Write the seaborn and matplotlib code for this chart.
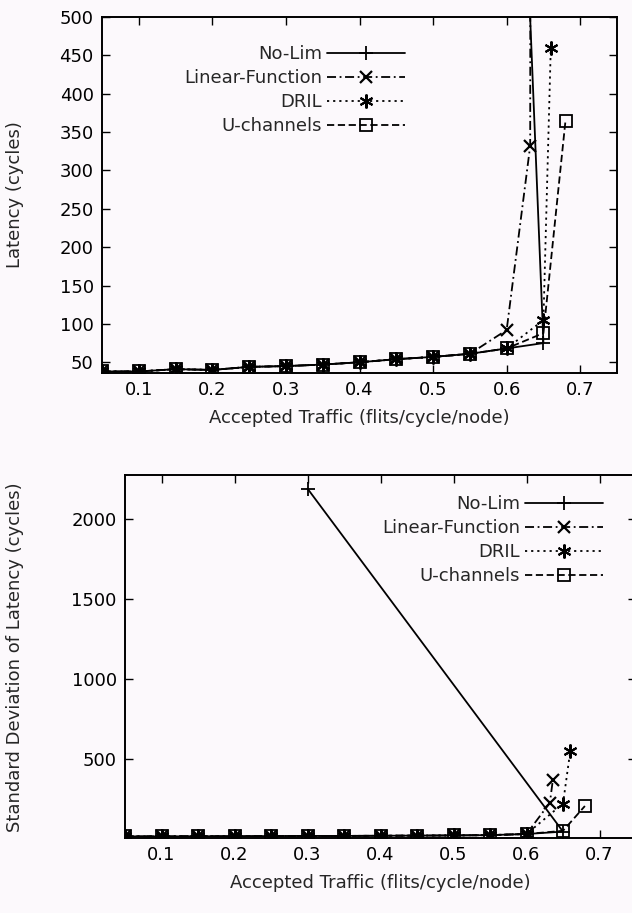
import numpy as np
import pandas as pd
import matplotlib
matplotlib.use("Agg")
import matplotlib.pyplot as plt
import seaborn as sns

# ---------------- data ----------------
series_names = ["No-Lim", "Linear-Function", "DRIL", "U-channels"]

base_x = [0.05, 0.10, 0.15, 0.20, 0.25, 0.30, 0.35, 0.40, 0.45, 0.50, 0.55]
base_lat = [38, 38, 41, 40, 44, 45, 47, 50, 54, 57, 61]
base_std = [15, 15, 16, 16, 17, 18, 18, 19, 20, 21, 23]

nolim_x = base_x + [0.60, 0.65, 0.30]
nolim_lat = base_lat + [68, 75, 8300]
nolim_std = base_std + [30, 45, 2190]

linear_x = base_x + [0.60, 0.632, 0.636]
linear_lat = base_lat + [92, 332, 5000]
linear_std = base_std + [30, 225, 365]

dril_x = base_x + [0.60, 0.65, 0.66]
dril_lat = base_lat + [68, 105, 460]
dril_std = base_std + [30, 220, 550]

uch_x = base_x + [0.60, 0.65, 0.68]
uch_lat = base_lat + [68, 88, 365]
uch_std = base_std + [30, 50, 205]

lat_yticks = [50, 100, 150, 200, 250, 300, 350, 400, 450, 500]
std_yticks = [500, 1000, 1500, 2000]
xticks = [0.1, 0.2, 0.3, 0.4, 0.5, 0.6, 0.7]

# ---------------- style ----------------
sns.set_style("ticks")
plt.rcParams["font.family"] = ["DejaVu Sans"]
FS = 13

W, H = 632, 913
fig = plt.figure(figsize=(W / 100, H / 100), dpi=100)
bg = "#fcf9fc"
fig.patch.set_facecolor(bg)

def frac(l, t, r, b):
    return [l / W, 1 - b / H, (r - l) / W, (b - t) / H]

ax1 = fig.add_axes(frac(102, 17, 617, 373))
ax2 = fig.add_axes(frac(125, 475, 636, 838))

styles = {
    "No-Lim": dict(marker="+", linestyle="-", ms=10, mew=1.3, mec="black"),
    "Linear-Function": dict(marker="x", linestyle=(0, (5, 2, 1, 2)), ms=8, mew=1.6, mec="black"),
    "DRIL": dict(marker=(6, 2, 0), linestyle=(0, (1.2, 2.2)), ms=10, mew=1.5, mec="black"),
    "U-channels": dict(marker="s", linestyle=(0, (4, 2)), ms=8, mew=1.3, mec="black", mfc="none"),
}

lat_data = {
    "No-Lim": (nolim_x, nolim_lat),
    "Linear-Function": (linear_x, linear_lat),
    "DRIL": (dril_x, dril_lat),
    "U-channels": (uch_x, uch_lat),
}
std_data = {
    "No-Lim": (nolim_x, nolim_std),
    "Linear-Function": (linear_x, linear_std),
    "DRIL": (dril_x, dril_std),
    "U-channels": (uch_x, uch_std),
}

def draw(ax, data):
    for name in series_names:
        xs, ys = data[name]
        df = pd.DataFrame({"x": xs, "y": ys})
        st = dict(styles[name])
        sns.lineplot(data=df, x="x", y="y", ax=ax, sort=False, estimator=None,
                     color="black", lw=1.3, label=name, **st)

draw(ax1, lat_data)
draw(ax2, std_data)

for ax in (ax1, ax2):
    ax.set_facecolor(bg)
    ax.set_xlim(0.05, 0.75)
    ax.set_xticks(xticks)
    ax.set_xticklabels([f"{v:.1f}" for v in xticks])
    ax.tick_params(direction="in", length=6, width=1.0, top=True, right=True,
                   labelsize=FS, pad=6, colors="black")
    for s in ax.spines.values():
        s.set_visible(True)
        s.set_linewidth(1.4)
        s.set_color("black")
    ax.set_ylabel("")
    ax.set_xlabel("Accepted Traffic (flits/cycle/node)", fontsize=FS, labelpad=7)

ax1.set_ylim(36, 500)
ax1.set_yticks(lat_yticks)
ax2.set_ylim(5, 2275)
ax2.set_yticks(std_yticks)

fig.text(15 / W, 1 - 195 / H, "Latency (cycles)", rotation=90, ha="center",
         va="center", fontsize=FS)
fig.text(15 / W, 1 - 657 / H, "Standard Deviation of Latency (cycles)", rotation=90,
         ha="center", va="center", fontsize=FS)

leg_kw = dict(frameon=False, markerfirst=False, handlelength=4.3, handletextpad=0.3,
              labelspacing=0.33, borderpad=0, borderaxespad=0, numpoints=1,
              fontsize=FS, loc="upper right")
ax1.legend(bbox_to_anchor=((405 - 102) / 515, (373 - 45) / 356), **leg_kw)
ax2.legend(bbox_to_anchor=((603 - 125) / 511, (838 - 495) / 363), **leg_kw)

fig.savefig("out.png", dpi=100, facecolor=bg)
